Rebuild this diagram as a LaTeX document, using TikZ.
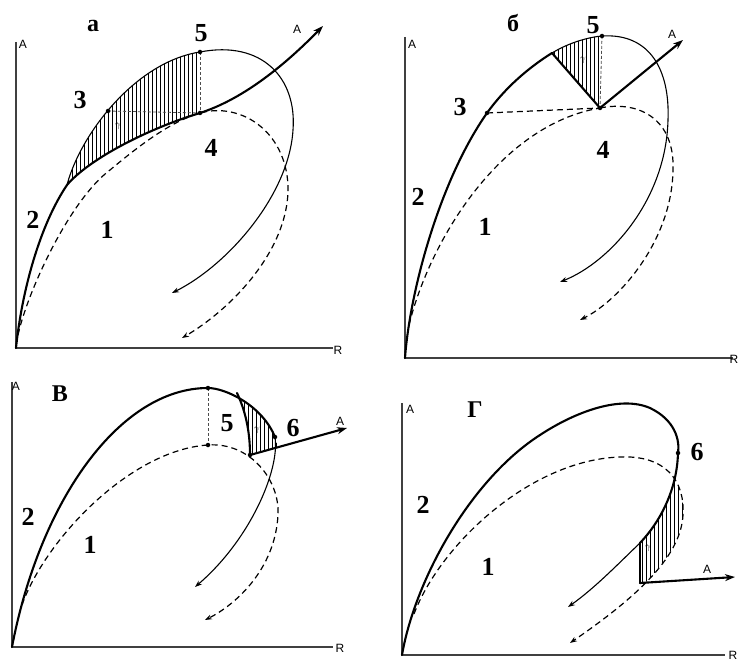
\documentclass[tikz,border=0pt]{standalone}
\usepackage{fontspec}
\setmainfont{Liberation Serif}
\newfontfamily\axisfont{Liberation Sans}
\usetikzlibrary{arrows.meta}
\tikzset{
 axisline/.style={line width=1.1pt, black!75},
 thk/.style={line width=2.1pt, line cap=round, line join=round},
 thn/.style={line width=1.1pt},
 dsh/.style={line width=1.2pt, dash pattern=on 6pt off 4pt},
 hdsh/.style={line width=0.8pt, dash pattern=on 3pt off 2pt, black!70},
 hatchline/.style={line width=0.7pt},
 num/.style={font=\fontsize{26}{26}\selectfont\bfseries, inner sep=0pt},
 ttl/.style={font=\fontsize{24}{24}\selectfont\bfseries, inner sep=0pt},
 axl/.style={font=\axisfont\fontsize{12}{12}\selectfont, inner sep=0pt},
 gam/.style={font=\fontsize{10}{10}\selectfont, inner sep=0pt},
 pdot/.style={circle, fill, inner sep=0pt, minimum size=4.5pt},
 tip/.style={-{Stealth[length=7pt,width=5pt]}},
 bigtip/.style={-{Stealth[length=10pt,width=7pt]}},
}
\begin{document}
\begin{tikzpicture}[x=1pt,y=-1pt]
\useasboundingbox (0,0) rectangle (739,663);

% ================= panel a =================
\coordinate (aO) at (16,348);
\coordinate (aF) at (67,185);
\coordinate (a3) at (108,111);
\coordinate (a4) at (200,113);
\coordinate (a5) at (200,52);
\begin{scope}
 \clip (aF) .. controls (80,135) and (135,62) .. (a5) -- (a4) .. controls (150,128) and (90,158) .. (aF) -- cycle;
 \foreach \x in {60,64,...,204} \draw[hatchline] (\x,40) -- (\x,200);
\end{scope}
\draw[axisline] (16,42) -- (aO) -- (333,348);
\draw[thk] (aO) .. controls (22,290) and (40,225) .. (aF) .. controls (90,158) and (150,128) .. (a4);
\draw[thk,bigtip] (a4) .. controls (240,100) and (280,70) .. (323,26);
\draw[thn,tip] (aF) .. controls (80,135) and (135,62) .. (a5)
   .. controls (262,40) and (297,78) .. (293,130)
   .. controls (289,195) and (228,265) .. (172,293);
\draw[dsh,tip] (18,335) .. controls (28,290) and (70,200) .. (110,170)
   .. controls (140,145) and (170,122) .. (a4)
   .. controls (240,102) and (285,130) .. (288,185)
   .. controls (290,250) and (230,310) .. (182,338);
\draw[hdsh] (a5) -- (a4);
\draw[hdsh] (a3) -- (a4);
\node[pdot] (a3d) at (a3) {};
\node[pdot] (a4d) at (a4) {};
\node[pdot] (a5d) at (a5) {};
\node[ttl] (aT) at (93,26) {а};
\node[num] (aL5) at (201,33) {5};
\node[num] (aL3) at (80,100) {3};
\node[num] (aL4) at (211,148) {4};
\node[num] (aL2) at (33,220) {2};
\node[num] (aL1) at (107,230) {1};
\node[axl] (aA) at (23,44) {A};
\node[axl] (aR) at (338,350) {R};
\node[axl] (aAr) at (297,29) {A};
\node[gam] (aG) at (118,126) {$\gamma$};

% ================= panel b =================
\coordinate (bO) at (405,358);
\coordinate (bK) at (552,53);
\coordinate (b3) at (487,113);
\coordinate (b4) at (600,108);
\coordinate (b5) at (602,36);
\begin{scope}
 \clip (bK) .. controls (570,42) and (590,37) .. (b5) -- (b4) -- cycle;
 \foreach \x in {550,554,...,606} \draw[hatchline] (\x,30) -- (\x,115);
\end{scope}
\draw[axisline] (405,37) -- (bO) -- (733,358);
\draw[thk] (bO) .. controls (410,290) and (440,180) .. (b3) .. controls (505,88) and (528,68) .. (bK);
\draw[thk] (bK) -- (b4);
\draw[thk,bigtip] (b4) -- (683,40);
\draw[thn,tip] (bK) .. controls (570,42) and (590,37) .. (b5)
   .. controls (650,33) and (670,70) .. (668,120)
   .. controls (666,200) and (610,262) .. (560,282);
\draw[dsh] (b3) -- (b4);
\draw[dsh,tip] (b4) .. controls (640,100) and (675,120) .. (673,170)
   .. controls (672,240) and (620,300) .. (580,320);
\draw[dsh] (409,325) .. controls (430,240) and (500,125) .. (b4);
\draw[hdsh] (b5) -- (b4);
\node[pdot] (b3d) at (b3) {};
\node[pdot] (b4d) at (b4) {};
\node[pdot] (b5d) at (b5) {};
\node[ttl] (bT) at (513,23) {б};
\node[num] (bL5) at (593,25) {5};
\node[num] (bL3) at (460,107) {3};
\node[num] (bL4) at (603,150) {4};
\node[num] (bL2) at (418,197) {2};
\node[num] (bL1) at (485,227) {1};
\node[axl] (bA) at (412,44) {A};
\node[axl] (bR) at (734,359) {R};
\node[axl] (bAr) at (672,34) {A};
\node[gam] (bG) at (583,60) {$\gamma$};

% ================= panel v =================
\coordinate (cO) at (12,647);
\coordinate (cP) at (208,388);
\coordinate (cD) at (208,445);
\coordinate (c6) at (275,437);
\coordinate (cQ) at (250,455);
\coordinate (cI) at (237,393);
\begin{scope}
 \clip (cP) .. controls (225,388) and (262,405) .. (c6) -- (278,447) -- (cQ) .. controls (250,430) and (245,410) .. (cI) -- cycle;
 \foreach \x in {240,244,...,282} \draw[hatchline] (\x,385) -- (\x,460);
\end{scope}
\draw[axisline] (12,382) -- (cO) -- (333,647);
\draw[thk] (cO) .. controls (40,500) and (120,388) .. (cP)
   .. controls (225,388) and (262,405) .. (c6);
\draw[thn,tip] (c6) .. controls (280,470) and (250,540) .. (195,587);
\draw[thk] (cI) .. controls (245,410) and (250,430) .. (cQ);
\draw[thk,bigtip] (cQ) -- (347,428);
\draw[hdsh] (cP) -- (cD);
\draw[dsh,tip] (22,605) .. controls (45,540) and (130,450) .. (cD)
   .. controls (250,442) and (280,480) .. (278,515)
   .. controls (275,570) and (235,605) .. (205,620);
\node[pdot] (cPd) at (cP) {};
\node[pdot] (cDd) at (cD) {};
\node[pdot] (c6d) at (c6) {};
\node[pdot] (cQd) at (cQ) {};
\node[ttl] (cT) at (60,394) {В};
\node[num] (cL5) at (227,423) {5};
\node[num] (cL6) at (293,428) {6};
\node[num] (cL2) at (28,517) {2};
\node[num] (cL1) at (90,545) {1};
\node[axl] (cA) at (16,386) {A};
\node[axl] (cR) at (340,648) {R};
\node[axl] (cAr) at (340,421) {A};
\node[gam] (cG) at (257,430) {$\gamma$};

% ================= panel g =================
\coordinate (dO) at (402,655);
\coordinate (d6) at (678,453);
\coordinate (dS) at (640,543);
\coordinate (dB) at (640,583);
\begin{scope}
 \clip (620,457) .. controls (665,455) and (685,480) .. (683,515)
   .. controls (681,555) and (640,595) .. (570,643) -- cycle;
 \clip (d6) .. controls (677,490) and (660,522) .. (dS) -- (dB) -- (700,583) -- (700,453) -- cycle;
 \foreach \x in {638,642,...,690} \draw[hatchline] (\x,470) -- (\x,590);
\end{scope}
\draw[axisline] (402,403) -- (dO) -- (725,655);
\draw[thk] (dO) .. controls (415,580) and (470,480) .. (540,435)
   .. controls (575,412) and (620,395) .. (650,408)
   .. controls (675,420) and (680,440) .. (d6)
   .. controls (677,490) and (660,522) .. (dS);
\draw[thn,tip] (dS) .. controls (620,562) and (595,588) .. (568,607);
\draw[thk] (dS) -- (dB);
\draw[thk,bigtip] (dB) -- (735,577);
\draw[dsh,tip] (414,614) .. controls (440,545) and (530,460) .. (620,457)
   .. controls (665,455) and (685,480) .. (683,515)
   .. controls (681,555) and (640,595) .. (570,643);
\node[pdot] (d6d) at (d6) {};
\node[ttl] (dT) at (475,410) {Г};
\node[num] (dL6) at (697,452) {6};
\node[num] (dL2) at (423,505) {2};
\node[num] (dL1) at (488,567) {1};
\node[axl] (dA) at (410,409) {A};
\node[axl] (dR) at (733,655) {R};
\node[axl] (dAr) at (707,569) {A};
\node[gam] (dG) at (648,548) {$\gamma$};
\end{tikzpicture}
\end{document}
